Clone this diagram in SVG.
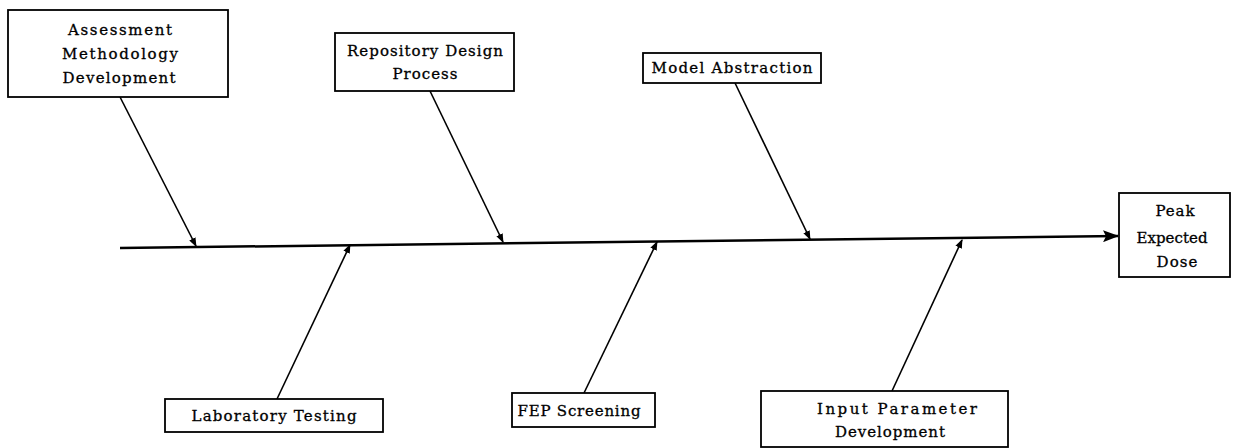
<svg xmlns="http://www.w3.org/2000/svg" width="1236" height="448" viewBox="0 0 1236 448">
  <style>
    .box { fill: #fff; stroke: #000; stroke-width: 1.8; }
    .t { font-family: "DejaVu Serif", "Liberation Serif", serif; font-size: 15px; fill: #000; stroke: #000; stroke-width: 0.3; text-anchor: middle; }
    .bone { stroke: #000; stroke-width: 1.6; fill: none; marker-end: url(#tip); }
    .spine { stroke: #000; stroke-width: 2.5; fill: none; marker-end: url(#head); }
  </style>
  <defs>
    <marker id="tip" markerUnits="userSpaceOnUse" markerWidth="9" markerHeight="8" refX="8" refY="4" orient="auto">
      <path d="M0,0.5 L9,4 L0,7.5 z" fill="#000"/>
    </marker>
    <marker id="head" markerUnits="userSpaceOnUse" markerWidth="16" markerHeight="12" refX="15" refY="6" orient="auto">
      <path d="M0,0 L16,6 L0,12 L3,6 z" fill="#000"/>
    </marker>
  </defs>

  <!-- spine and cause bones -->
  <g id="connectors">
    <line class="spine" x1="120" y1="248" x2="1118" y2="236"/>
    <line class="bone" x1="120" y1="97" x2="196" y2="246"/>
    <line class="bone" x1="430" y1="91" x2="503" y2="242"/>
    <line class="bone" x1="735" y1="83" x2="810" y2="239"/>
    <line class="bone" x1="277" y1="399" x2="350" y2="245"/>
    <line class="bone" x1="584" y1="393" x2="657" y2="242"/>
    <line class="bone" x1="892" y1="391" x2="962" y2="240"/>
  </g>

  <g id="assessment">
    <rect class="box" x="8" y="10" width="220" height="87"/>
    <text class="t" x="120" y="35" textLength="104" lengthAdjust="spacing">Assessment</text>
    <text class="t" x="120" y="59" textLength="116" lengthAdjust="spacing">Methodology</text>
    <text class="t" x="119" y="83" textLength="113" lengthAdjust="spacing">Development</text>
  </g>

  <g id="repository">
    <rect class="box" x="335" y="33" width="179" height="58"/>
    <text class="t" x="425" y="56" textLength="156" lengthAdjust="spacing">Repository Design</text>
    <text class="t" x="425" y="79" textLength="65" lengthAdjust="spacing">Process</text>
  </g>

  <g id="model">
    <rect class="box" x="643" y="53" width="178" height="30"/>
    <text class="t" x="732" y="73" textLength="161" lengthAdjust="spacing">Model Abstraction</text>
  </g>

  <g id="peak">
    <rect class="box" x="1119" y="193" width="111" height="84"/>
    <text class="t" x="1175" y="216" textLength="39" lengthAdjust="spacing">Peak</text>
    <text class="t" x="1172" y="243" textLength="71" lengthAdjust="spacing">Expected</text>
    <text class="t" x="1177" y="267" textLength="41" lengthAdjust="spacing">Dose</text>
  </g>

  <g id="laboratory">
    <rect class="box" x="165" y="399" width="218" height="33"/>
    <text class="t" x="274" y="421" textLength="165" lengthAdjust="spacing">Laboratory Testing</text>
  </g>

  <g id="fep">
    <rect class="box" x="512" y="393" width="143" height="34"/>
    <text class="t" x="579" y="416" textLength="123" lengthAdjust="spacing">FEP Screening</text>
  </g>

  <g id="input">
    <rect class="box" x="761" y="391" width="247" height="56"/>
    <text class="t" x="897" y="414" textLength="160" lengthAdjust="spacing">Input Parameter</text>
    <text class="t" x="890" y="437" textLength="110" lengthAdjust="spacing">Development</text>
  </g>
</svg>
